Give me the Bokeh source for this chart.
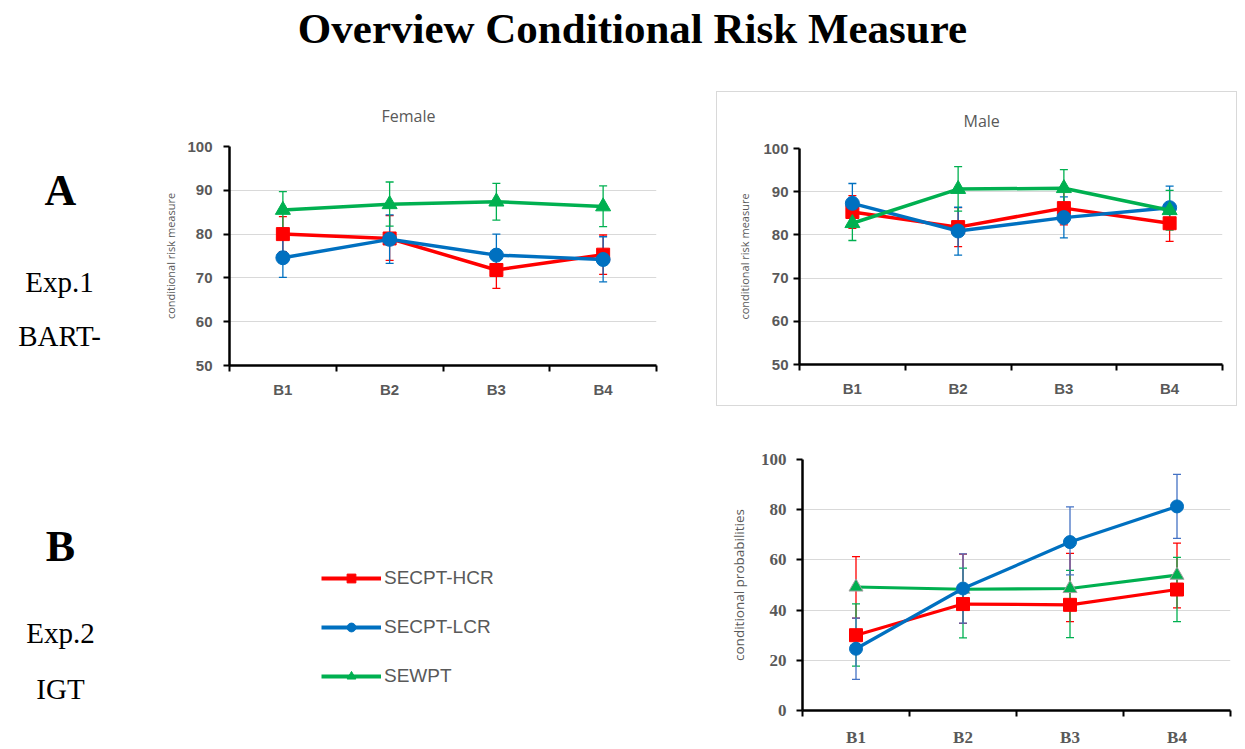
from bokeh.plotting import figure
from bokeh.models import (Range1d, FixedTicker, ColumnDataSource, Whisker, TeeHead,
                          Legend, LegendItem, Spacer, Column)
from bokeh.layouts import row, column
from bokeh.core.properties import value
from bokeh.embed import file_html
from bokeh.resources import INLINE

# ---------------- data ----------------
categories = ["B1", "B2", "B3", "B4"]
series_names = ["SECPT-HCR", "SECPT-LCR", "SEWPT"]

# Exp.1 BART - Female
f_hcr = [80.0, 79.0, 71.8, 75.3]
f_hcr_lo = [76.0, 74.0, 67.6, 70.8]
f_hcr_hi = [84.0, 84.2, 76.0, 79.8]
f_lcr = [74.6, 78.8, 75.2, 74.2]
f_lcr_lo = [70.1, 73.3, 70.4, 69.1]
f_lcr_hi = [79.1, 84.4, 80.0, 79.4]
f_sewpt = [85.5, 86.8, 87.4, 86.3]
f_sewpt_lo = [81.3, 81.8, 83.2, 81.7]
f_sewpt_hi = [89.7, 91.9, 91.6, 91.0]

# Exp.1 BART - Male
m_hcr = [85.3, 81.8, 86.2, 82.7]
m_hcr_lo = [81.5, 77.3, 82.3, 78.5]
m_hcr_hi = [89.1, 86.3, 90.1, 86.9]
m_lcr = [87.3, 80.9, 84.0, 86.3]
m_lcr_lo = [82.7, 75.3, 79.3, 81.3]
m_lcr_hi = [91.9, 86.4, 88.8, 91.3]
m_sewpt = [82.7, 90.6, 90.8, 85.7]
m_sewpt_lo = [78.7, 85.5, 86.6, 81.1]
m_sewpt_hi = [86.7, 95.8, 95.1, 90.3]

# Exp.2 IGT (error bars as drawn in the original)
i_hcr = [30.0, 42.4, 42.1, 48.2]
i_hcr_lo = [36.8, 34.7, 35.4, 40.9]
i_hcr_hi = [61.3, 62.3, 62.6, 66.7]
i_lcr = [24.6, 48.6, 67.1, 81.3]
i_lcr_lo = [12.4, 34.8, 54.0, 68.6]
i_lcr_hi = [36.8, 62.4, 81.1, 94.1]
i_sewpt = [49.2, 48.3, 48.6, 53.9]
i_sewpt_lo = [17.7, 28.9, 29.0, 35.4]
i_sewpt_hi = [42.5, 56.7, 55.8, 61.0]

RED, BLUE, GREEN = "#FF0000", "#0070C0", "#00B050"
GRAY_TXT = "#595959"

x_pos = [i + 0.5 for i in range(len(categories))]
x_bounds = list(range(len(categories) + 1))


def no_align(p):
    try:
        p.frame_align = False
    except Exception:
        pass


def blank(w, h):
    p = figure(width=w, height=h, x_range=Range1d(0, w), y_range=Range1d(h, 0),
               x_axis_type=None, y_axis_type=None, output_backend="svg",
               toolbar_location=None, min_border=0)
    p.grid.visible = False
    p.outline_line_color = None
    no_align(p)
    return p


def chart(width, height, bl, br, bt, bb, ymin, ymax, ystep, series, ylabel,
          tick_font, tick_size, tick_standoff, ylab_size, ylab_standoff,
          cat_standoff, line_w, err_w, title=None, title_offset=0, title_standoff=38):
    p = figure(width=width, height=height, x_range=Range1d(0, len(categories)),
               y_range=Range1d(ymin, ymax), output_backend="svg",
               toolbar_location=None, min_border_left=bl, min_border_right=br,
               min_border_top=bt, min_border_bottom=bb)
    p.outline_line_color = None
    p.xgrid.visible = False
    yt = FixedTicker(ticks=list(range(ymin, ymax + 1, ystep)))
    p.yaxis.ticker = yt
    p.ygrid.ticker = yt
    p.ygrid.grid_line_color = "#D9D9D9"
    p.ygrid.grid_line_width = 1

    xa = p.xaxis[0]
    xa.ticker = FixedTicker(ticks=x_pos, minor_ticks=x_bounds)
    xa.major_label_overrides = {x: c for x, c in zip(x_pos, categories)}
    xa.major_tick_out = 0
    xa.major_tick_in = 0
    xa.minor_tick_out = 6
    xa.minor_tick_in = 0
    xa.minor_tick_line_color = "black"
    xa.minor_tick_line_width = 2
    xa.axis_line_color = "black"
    xa.axis_line_width = 2.5
    xa.major_label_text_font = tick_font
    xa.major_label_text_font_style = "bold"
    xa.major_label_text_font_size = tick_size
    xa.major_label_text_color = GRAY_TXT
    xa.major_label_standoff = cat_standoff

    ya = p.yaxis[0]
    ya.major_tick_out = 6
    ya.major_tick_in = 0
    ya.major_tick_line_color = "black"
    ya.major_tick_line_width = 2
    ya.minor_tick_line_color = None
    ya.axis_line_color = "black"
    ya.axis_line_width = 2.5
    ya.major_label_text_font = tick_font
    ya.major_label_text_font_style = "bold"
    ya.major_label_text_font_size = tick_size
    ya.major_label_text_color = GRAY_TXT
    ya.major_label_standoff = tick_standoff
    ya.axis_label = ylabel
    ya.axis_label_text_font = "Open Sans"
    ya.axis_label_text_font_style = "normal"
    ya.axis_label_text_font_size = ylab_size
    ya.axis_label_text_color = GRAY_TXT
    ya.axis_label_standoff = ylab_standoff

    for s in series:
        src = ColumnDataSource(dict(x=x_pos, lo=s["lo"], hi=s["hi"]))
        w = Whisker(source=src, base="x", lower="lo", upper="hi",
                    line_color=s["ecolor"], line_width=err_w,
                    upper_head=TeeHead(size=8, line_color=s["ecolor"], line_width=err_w),
                    lower_head=TeeHead(size=8, line_color=s["ecolor"], line_width=err_w))
        p.add_layout(w)
    for s in series:
        src = ColumnDataSource(dict(x=x_pos, y=s["y"]))
        p.line("x", "y", source=src, line_color=s["color"], line_width=line_w)
        p.scatter("x", "y", source=src, marker=s["marker"], size=s["size"],
                  fill_color=s["color"], line_color=s.get("mline", s["color"]),
                  line_width=s.get("mlw", 1))
    if title:
        p.title.text = title
        p.title.align = "left"
        p.title.offset = title_offset
        p.title.vertical_align = "middle"
        p.title.standoff = title_standoff
        p.title.text_font = "Open Sans"
        p.title.text_font_style = "normal"
        p.title.text_font_size = "16px"
        p.title.text_color = GRAY_TXT
    return p


def bart_series(h, hl, hh, l, ll, lh, s, sl, sh):
    return [
        dict(name=series_names[0], y=h, lo=hl, hi=hh, color=RED, ecolor=RED, marker="square", size=13),
        dict(name=series_names[1], y=l, lo=ll, hi=lh, color=BLUE, ecolor=BLUE, marker="circle", size=14),
        dict(name=series_names[2], y=s, lo=sl, hi=sh, color=GREEN, ecolor=GREEN, marker="triangle", size=15),
    ]


TOP_H = 84

# ---------------- title ----------------
top = blank(1245, TOP_H)
top.text(x=[632], y=[28], text=["Overview Conditional Risk Measure"],
         text_font=value("Liberation Serif"), text_font_style="bold",
         text_font_size="43px", text_align="center", text_baseline="middle",
         text_color="black")

# ---------------- left labels ----------------
LH = 749 - TOP_H
left = blank(160, LH)
left.text(x=[60, 60], y=[190 - TOP_H, 546 - TOP_H], text=["A", "B"],
          text_font=value("Liberation Serif"), text_font_style="bold",
          text_font_size="44px", text_align="center", text_baseline="middle",
          text_color="black")
left.text(x=[59, 59, 60, 60], y=[281 - TOP_H, 335 - TOP_H, 632 - TOP_H, 688 - TOP_H],
          text=["Exp.1", "BART-", "Exp.2", "IGT"],
          text_font=value("Liberation Serif"), text_font_size="29px",
          text_align="center", text_baseline="middle", text_color="black")

# ---------------- Female ----------------
FEM_H = 410 - TOP_H
fem = chart(556, FEM_H, 68, 60, 146 - TOP_H, FEM_H - (365 - TOP_H), 50, 100, 10,
            bart_series(f_hcr, f_hcr_lo, f_hcr_hi, f_lcr, f_lcr_lo, f_lcr_hi,
                        f_sewpt, f_sewpt_lo, f_sewpt_hi),
            "conditional risk measure", "Liberation Sans", "15px", 11,
            "11px", 6, 9, 3.5, 1.3, title="Female", title_offset=152)

# ---------------- legend panel ----------------
LEG_H = 749 - 410
legfig = blank(556, LEG_H)
items = []
leg_styles = [(RED, "square", 10), (BLUE, "circle", 10), (GREEN, "triangle", 11)]
nan = float("nan")
for name, (c, mk, sz) in zip(series_names, leg_styles):
    src = ColumnDataSource(dict(x=[nan], y=[nan]))
    lr = legfig.line("x", "y", source=src, line_color=c, line_width=4)
    sr = legfig.scatter("x", "y", source=src, marker=mk, size=sz, fill_color=c, line_color=c)
    items.append(LegendItem(label=name, renderers=[lr, sr]))
legend = Legend(items=items, location=(161, LEG_H - (567 - 410) - 120))
legend.border_line_color = None
legend.background_fill_alpha = 0
legend.padding = 0
legend.margin = 0
legend.spacing = 27
legend.glyph_width = 60
legend.glyph_height = 22
legend.label_height = 22
legend.label_standoff = 3
legend.label_text_font = "Liberation Sans"
legend.label_text_font_size = "19px"
legend.label_text_color = GRAY_TXT
legfig.add_layout(legend)

# ---------------- Male ----------------
MALE_H = 313
male = chart(519, MALE_H, 82, 14, 146 - 91, 41, 50, 100, 10,
             bart_series(m_hcr, m_hcr_lo, m_hcr_hi, m_lcr, m_lcr_lo, m_lcr_hi,
                         m_sewpt, m_sewpt_lo, m_sewpt_hi),
             "conditional risk measure", "Liberation Sans", "15px", 5,
             "11px", 8, 9, 3.5, 1.3, title="Male", title_offset=164, title_standoff=32)
male_box = Column(male, styles={"border": "1px solid #D9D9D9"})

# ---------------- IGT ----------------
igt_series = [
    dict(name=series_names[0], y=i_hcr, lo=i_hcr_lo, hi=i_hcr_hi, color=RED, ecolor=RED,
         marker="square", size=13),
    dict(name=series_names[2], y=i_sewpt, lo=i_sewpt_lo, hi=i_sewpt_hi, color=GREEN,
         ecolor=GREEN, marker="triangle", size=14, mline="#A0A0A0", mlw=1),
    dict(name=series_names[1], y=i_lcr, lo=i_lcr_lo, hi=i_lcr_hi, color=BLUE,
         ecolor="#4472C4", marker="circle", size=13),
]
igt = chart(529, 343, 86, 15, 53, 30, 0, 100, 20, igt_series,
            "conditional probabilities", "Liberation Serif", "17px", 10,
            "13.5px", 10, 11, 3.2, 1.3)

layout = column(top, row(left, column(fem, legfig),
                         column(Spacer(width=521, height=91 - TOP_H), male_box, igt)))

open("out.html", "w").write(file_html(layout, INLINE))
